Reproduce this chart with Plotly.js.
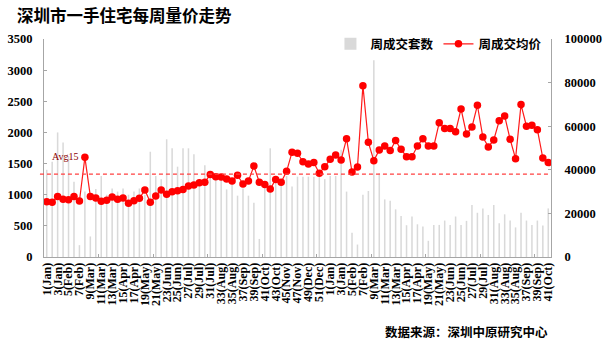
<!DOCTYPE html>
<html>
<head>
<meta charset="utf-8">
<script src="https://cdn.plot.ly/plotly-3.0.1.min.js"></script>
<style>html,body{margin:0;padding:0;background:#fff;}#chart{width:611px;height:350px;}</style>
</head>
<body>
<div id="chart"></div>
<script>
// 2015 weeks 1-52, 2016 weeks 1-41
const weeks2015 = 52;
const weeks2016 = 41;
// month names for odd (labelled) weeks
const months2015 = ["Jan","Jan","Feb","Feb","Mar","Mar","Mar","Apr","Apr","May","May","Jun","Jun","Jul","Jul","Jul","Aug","Aug","Sep","Sep","Oct","Oct","Nov","Nov","Dec","Dec"];
const months2016 = ["Jan","Jan","Feb","Feb","Mar","Mar","Mar","Apr","Apr","May","May","Jun","Jun","Jul","Jul","Aug","Aug","Aug","Sep","Sep","Oct"];

// weekly transaction units (left axis)
const volume = [
 1400,1530,2000,1840,1620,1210,190,1050,330,1090,
 1300,1000,1100,1050,1100,1000,1050,1100,1000,1690,
 1300,1250,1890,1745,1450,1745,1745,1650,1250,1475,
 1300,1250,1300,1085,1200,985,1100,985,870,290,
 1200,1745,1300,1200,1300,1130,1290,1290,1290,1290,
 1290,1250,1300,1300,1720,1050,390,200,1000,1060,
 3160,1345,925,905,765,660,510,650,525,490,
 260,515,515,585,515,650,515,580,835,710,
 780,675,835,540,685,585,475,710,585,515,
 585,505,780
];
// weekly average price (right axis)
const price = [
 25400,25100,27800,26500,26300,27800,25700,45700,27800,27100,
 25600,26000,27500,26500,27100,24600,25800,26900,30700,25100,
 28000,30700,28800,29950,30400,31000,32600,33000,34100,34300,
 37800,36800,36700,35800,34900,37500,33500,34900,41700,34300,
 33300,31200,35600,34300,39300,48100,47600,43700,42700,43300,
 38400,41400,44800,46800,44500,54300,39000,41300,78600,52600,
 44200,49100,50900,48800,53400,49400,46000,46000,50900,54300,
 50900,50900,61600,58900,58900,57500,67900,56400,59600,69600,
 55000,50500,53700,62500,64700,54000,45100,69900,60000,60400,
 58400,45400,43300
];
const avg15 = 38000;

const cats = [], tickvals = [], ticktext = [];
for (let w = 1; w <= weeks2015; w++) {
  const c = "2015-" + w; cats.push(c);
  if (w % 2 === 1) { tickvals.push(c); ticktext.push(w + "(" + months2015[(w - 1) / 2] + ")"); }
}
for (let w = 1; w <= weeks2016; w++) {
  const c = "2016-" + w; cats.push(c);
  if (w % 2 === 1) { tickvals.push(c); ticktext.push(w + "(" + months2016[(w - 1) / 2] + ")"); }
}

const serif = "Liberation Serif, Times New Roman, serif";
const cjk = "Noto Sans CJK SC, sans-serif";

const traces = [
  {type: "bar", x: cats, y: volume, name: "周成交套数", marker: {color: "#d9d9d9"}, xaxis: "x", yaxis: "y"},
  {type: "scatter", mode: "lines+markers", x: cats, y: price, name: "周成交均价", xaxis: "x", yaxis: "y2",
   line: {color: "#ff1a1a", width: 1.2}, marker: {color: "#ff0000", size: 7.5}},
  {type: "scatter", x: [0], y: [0], xaxis: "x2", yaxis: "y", showlegend: false, hoverinfo: "skip", mode: "markers", marker: {opacity: 0}}
];

const layout = {
  width: 611, height: 350,
  margin: {l: 44, r: 60, t: 39, b: 93},
  paper_bgcolor: "#fff", plot_bgcolor: "#fff",
  showlegend: true,
  bargap: 0.72,
  title: {text: "深圳市一手住宅每周量价走势", x: 17 / 611, xanchor: "left", xref: "container",
          y: 1 - 16 / 350, yanchor: "middle", yref: "container",
          font: {family: cjk, size: 16.5, color: "#000", weight: "bold"}},
  legend: {orientation: "h", x: 0.565, xanchor: "left", y: 1.045, yanchor: "top",
           font: {family: cjk, size: 12.5, color: "#000", weight: "bold"}, bgcolor: "rgba(0,0,0,0)",
           itemwidth: 30, tracegroupgap: 0},
  xaxis: {type: "category", categoryorder: "array", categoryarray: cats,
          tickvals: tickvals, ticktext: ticktext, tickangle: -90, ticks: "",
          tickfont: {family: serif, size: 12, color: "#000", weight: "bold"},
          showline: true, linecolor: "#a6a6a6", linewidth: 1, showgrid: false, zeroline: false,
          range: [-0.5, cats.length - 0.5]},
  xaxis2: {overlaying: "x", range: [-0.5, cats.length - 0.5], tick0: -0.5, dtick: 10, ticks: "inside",
           ticklen: 3, tickcolor: "#a6a6a6", showticklabels: false, showgrid: false, zeroline: false,
           showline: false, anchor: "y"},
  yaxis: {range: [0, 3500], dtick: 500, ticks: "inside", ticklen: 3, tickcolor: "#a6a6a6",
          showline: true, linecolor: "#a6a6a6", linewidth: 1, showgrid: false, zeroline: false,
          tickformat: "d",
          tickfont: {family: serif, size: 12.5, color: "#000", weight: "bold"}, ticklabelstandoff: 8},
  yaxis2: {range: [0, 100000], dtick: 20000, overlaying: "y", side: "right", ticks: "inside", ticklen: 3,
           tickcolor: "#a6a6a6", showline: true, linecolor: "#a6a6a6", linewidth: 1, showgrid: false,
           zeroline: false, tickformat: "d", exponentformat: "none",
           tickfont: {family: serif, size: 12.5, color: "#000", weight: "bold"},
           ticklabelstandoff: 10},
  shapes: [
    {type: "line", xref: "paper", yref: "y2", x0: -0.008, x1: 0.994, y0: avg15, y1: avg15,
     line: {color: "#ff4040", width: 1.3, dash: "4px,3px"}}
  ],
  annotations: [
    {text: "Avg15", xref: "paper", yref: "paper", x: 0.012, y: 0.463, xanchor: "left", yanchor: "middle",
     showarrow: false, font: {family: serif, size: 10, color: "#8b0000"}},
    {text: "数据来源：深圳中原研究中心", xref: "paper", yref: "paper", x: (550 - 44) / 507, y: (257 - 331) / 218,
     xanchor: "right", yanchor: "middle", showarrow: false,
     font: {family: cjk, size: 12.5, color: "#000", weight: "bold"}}
  ]
};

Plotly.newPlot("chart", traces, layout, {displayModeBar: false, staticPlot: true});
</script>
</body>
</html>
